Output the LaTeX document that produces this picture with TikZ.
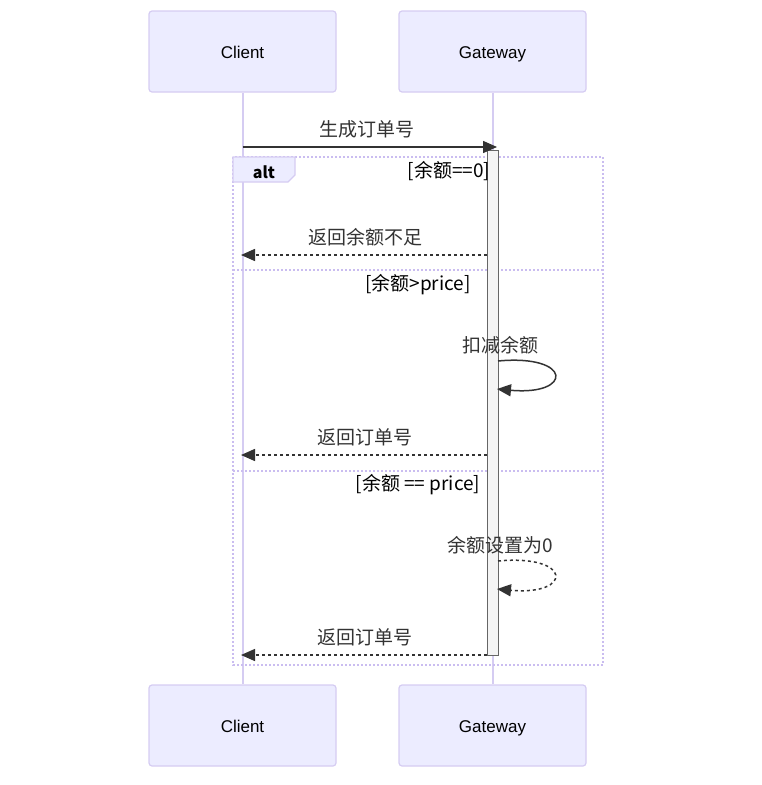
\documentclass[tikz,border=0pt]{standalone}
\usepackage{fontspec}
\usetikzlibrary{arrows.meta}
\newfontfamily\actorfont{Liberation Sans}
\newfontfamily\cjkfont{Noto Sans CJK SC}
\definecolor{actfill}{HTML}{ECECFF}
\definecolor{actline}{HTML}{D5CCF2}
\definecolor{framecol}{HTML}{CABDF0}
\definecolor{msgcol}{HTML}{333333}
\definecolor{actvfill}{HTML}{F4F4F4}
\definecolor{actvline}{HTML}{666666}
\tikzset{
  x=1pt, y=-1pt,
  actorbox/.style={draw=actline, fill=actfill, line width=1.2pt, rounded corners=3pt,
    minimum width=187pt, minimum height=81pt, inner sep=0pt,
    text height=13pt, text depth=0pt,
    font=\actorfont\fontsize{17}{20}\selectfont, text=black},
  lifeline/.style={draw=actline, line width=2pt},
  msg/.style={draw=msgcol, line width=1.5pt, -{Triangle[length=14pt,width=12pt]}},
  retmsg/.style={msg, dash pattern=on 3pt off 3pt},
  msglabel/.style={font=\cjkfont\fontsize{19}{22}\selectfont, text=msgcol, inner sep=0pt},
  condlabel/.style={font=\cjkfont\fontsize{19}{22}\selectfont, text=black, inner sep=0pt},
  framebox/.style={draw=framecol, line width=2pt, dash pattern=on 2pt off 2pt},
  activ/.style={draw=actvline, fill=actvfill, line width=1pt},
}
\begin{document}
\begin{tikzpicture}
\useasboundingbox (0,0) rectangle (762,785);
% actors
\node[actorbox] (ctop) at (242.5,51.5) {Client};
\node[actorbox] (gtop) at (492.5,51.5) {Gateway};
\node[actorbox] (cbot) at (242.5,725.5) {Client};
\node[actorbox] (gbot) at (492.5,725.5) {Gateway};
% lifelines
\draw[lifeline] (ctop.south) -- (cbot.north);
\draw[lifeline] (gtop.south) -- (gbot.north);
% alt frame
\draw[framebox] (233,157) rectangle (603,665);
\draw[framebox] (233,270) -- (603,270);
\draw[framebox] (233,471) -- (603,471);
\draw[draw=actline, fill=actfill, line width=1.2pt] (233,157) -- (295,157) -- (295,175) -- (288,182) -- (233,182) -- cycle;
\node[font=\cjkfont\bfseries\fontsize{16}{19}\selectfont, text=black, inner sep=0pt] (altlbl) at (264,172) {alt};
% activation
\node[activ, minimum width=11pt, minimum height=505pt, inner sep=0pt, anchor=north west] (act) at (487,150) {};
% condition labels
\node[condlabel] (c1) at (449,171) {[余额==0]};
\node[condlabel] (c2) at (418,285) {[余额>price]};
\node[condlabel] (c3) at (418,485) {[余额 == price]};
% coordinates
\coordinate (m1s) at (242.5,147);
\coordinate (m1e) at (497,147);
\coordinate (r1s) at (487,255);
\coordinate (r1e) at (241,255);
\coordinate (s1s) at (498,361);
\coordinate (s1e) at (497,389);
\coordinate (r2s) at (487,455);
\coordinate (r2e) at (241,455);
\coordinate (s2s) at (498,561);
\coordinate (s2e) at (497,589);
\coordinate (r3s) at (487,655);
\coordinate (r3e) at (241,655);
% messages
\draw[msg] (m1s) -- (m1e);
\node[msglabel] (l1) at (367,129) {生成订单号};
\draw[retmsg] (r1s) -- (r1e);
\node[msglabel] (l2) at (365,237) {返回余额不足};
\draw[msg] (s1s) .. controls (573,354) and (573,396) .. (s1e);
\node[msglabel] (l3) at (500,345) {扣减余额};
\draw[retmsg] (r2s) -- (r2e);
\node[msglabel] (l4) at (365,437) {返回订单号};
\draw[retmsg] (s2s) .. controls (573,554) and (573,596) .. (s2e);
\node[msglabel] (l5) at (500,545) {余额设置为0};
\draw[retmsg] (r3s) -- (r3e);
\node[msglabel] (l6) at (365,637) {返回订单号};
\end{tikzpicture}
\end{document}
